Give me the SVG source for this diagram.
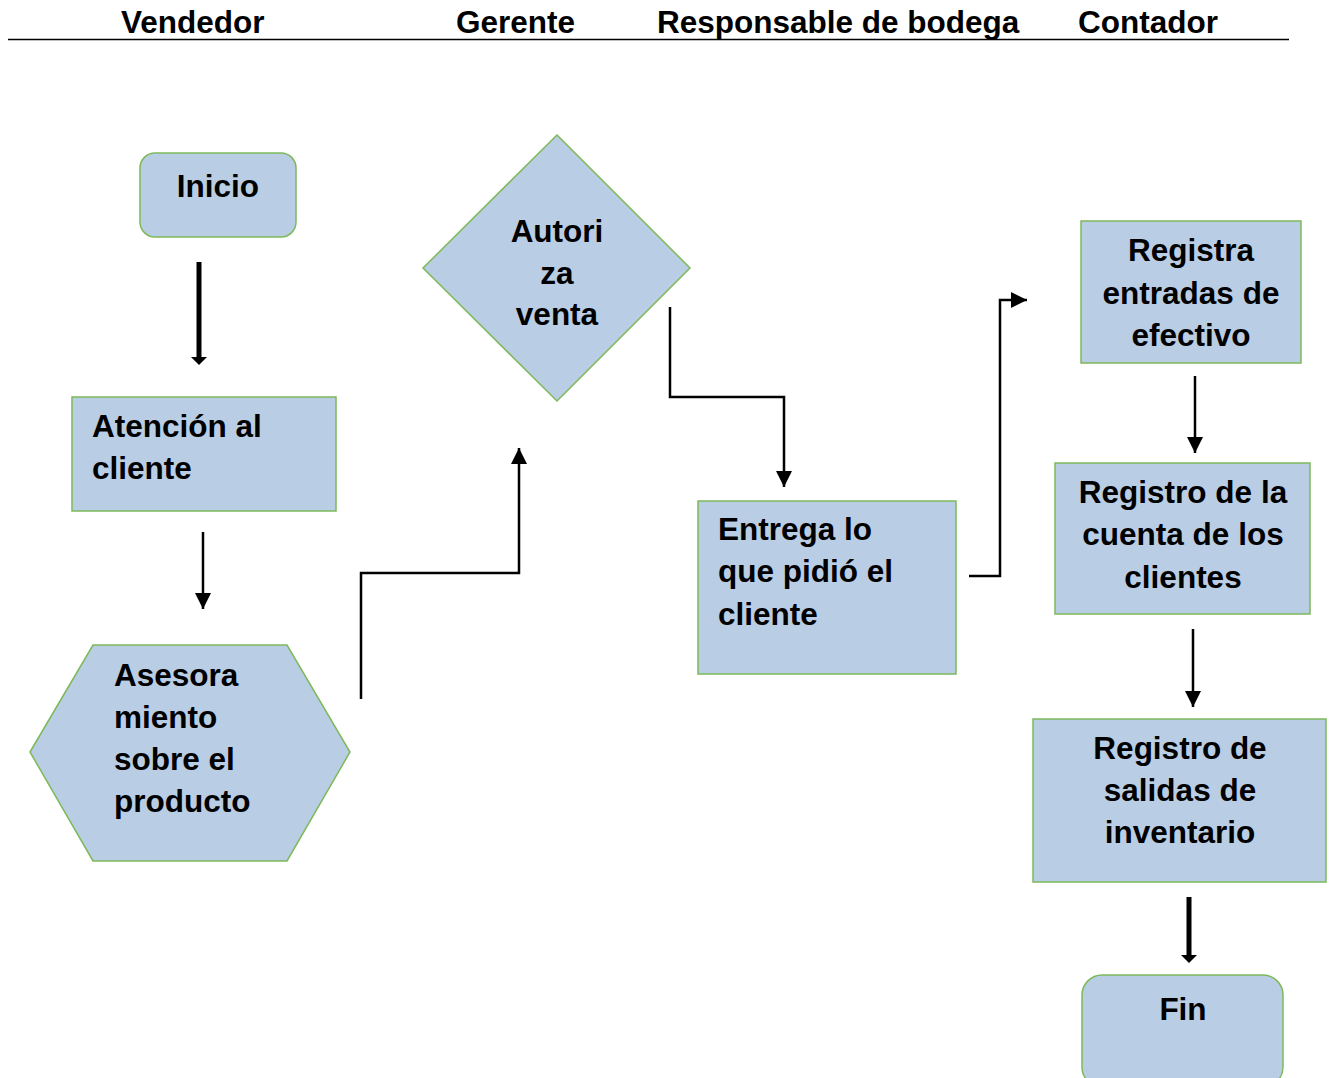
<svg xmlns="http://www.w3.org/2000/svg" width="1333" height="1078" viewBox="0 0 1333 1078">
  <style>
    .shape { fill: #B9CDE5; stroke: #7DB95A; stroke-width: 1.5; }
    .lbl { font-family: "Liberation Sans", Arial, sans-serif; font-weight: bold; font-size: 31.5px; fill: #000; }
    .mid { text-anchor: middle; }
    .wire { fill: none; stroke: #000; stroke-width: 2.5; }
    .thick { fill: none; stroke: #000; stroke-width: 5; }
  </style>
  <defs>
    <marker id="arrow" viewBox="0 0 16 16" refX="16" refY="8" markerUnits="userSpaceOnUse" markerWidth="16" markerHeight="16" orient="auto">
      <path d="M0,0 L16,8 L0,16 Z" fill="#000"/>
    </marker>
    <!-- short wide head placed beyond the end of a thick shaft -->
    <marker id="arrowSmall" viewBox="0 0 8 16" refX="0" refY="8" markerUnits="userSpaceOnUse" markerWidth="8" markerHeight="16" orient="auto">
      <path d="M0,0 L8,8 L0,16 Z" fill="#000"/>
    </marker>
  </defs>

  <!-- lane headings -->
  <g id="lanes">
    <text class="lbl" x="121" y="33">Vendedor</text>
    <text class="lbl" x="456" y="33">Gerente</text>
    <text class="lbl" x="657" y="33">Responsable de bodega</text>
    <text class="lbl" x="1078" y="33">Contador</text>
    <line x1="8" y1="39.5" x2="1289" y2="39.5" stroke="#000" stroke-width="1.5"/>
  </g>

  <g id="inicio">
    <rect class="shape" x="140" y="153" width="156" height="84" rx="15"/>
    <text class="lbl mid" x="218" y="197">Inicio</text>
  </g>

  <g id="atencion">
    <rect class="shape" x="72" y="397" width="264" height="114"/>
    <text class="lbl" x="92" y="437">Atención al</text>
    <text class="lbl" x="92" y="479">cliente</text>
  </g>

  <g id="asesoramiento">
    <polygon class="shape" points="30,752 93,645 287,645 350,752 287,861 93,861"/>
    <text class="lbl" x="114" y="686">Asesora</text>
    <text class="lbl" x="114" y="728">miento</text>
    <text class="lbl" x="114" y="770">sobre el</text>
    <text class="lbl" x="114" y="812">producto</text>
  </g>

  <g id="autoriza">
    <polygon class="shape" points="557,135 690,268 557,401 423,268"/>
    <text class="lbl mid" x="557" y="242">Autori</text>
    <text class="lbl mid" x="557" y="284">za</text>
    <text class="lbl mid" x="557" y="325">venta</text>
  </g>

  <g id="entrega">
    <rect class="shape" x="698" y="501" width="258" height="173"/>
    <text class="lbl" x="718" y="540">Entrega lo</text>
    <text class="lbl" x="718" y="582">que pidió el</text>
    <text class="lbl" x="718" y="625">cliente</text>
  </g>

  <g id="registra-entradas">
    <rect class="shape" x="1081" y="221" width="220" height="142"/>
    <text class="lbl mid" x="1191" y="261">Registra</text>
    <text class="lbl mid" x="1191" y="304">entradas de</text>
    <text class="lbl mid" x="1191" y="346">efectivo</text>
  </g>

  <g id="registro-cuenta">
    <rect class="shape" x="1055" y="463" width="255" height="151"/>
    <text class="lbl mid" x="1183" y="503">Registro de la</text>
    <text class="lbl mid" x="1183" y="545">cuenta de los</text>
    <text class="lbl mid" x="1183" y="588">clientes</text>
  </g>

  <g id="registro-salidas">
    <rect class="shape" x="1033" y="719" width="293" height="163"/>
    <text class="lbl mid" x="1180" y="759">Registro de</text>
    <text class="lbl mid" x="1180" y="801">salidas de</text>
    <text class="lbl mid" x="1180" y="843">inventario</text>
  </g>

  <g id="fin">
    <rect class="shape" x="1082" y="975" width="201" height="112" rx="20"/>
    <text class="lbl mid" x="1183" y="1020">Fin</text>
  </g>

  <!-- connectors -->
  <g id="connectors">
    <path class="thick" d="M199,262 V357" marker-end="url(#arrowSmall)"/>
    <path class="wire" d="M203,532 V609" marker-end="url(#arrow)"/>
    <path class="wire" d="M361,699 V573 H519 V448" marker-end="url(#arrow)"/>
    <path class="wire" d="M670,307 V397 H784 V487" marker-end="url(#arrow)"/>
    <path class="wire" d="M969,576 H1000 V300 H1027" marker-end="url(#arrow)"/>
    <path class="wire" d="M1195,376 V453" marker-end="url(#arrow)"/>
    <path class="wire" d="M1193,629 V707" marker-end="url(#arrow)"/>
    <path class="thick" d="M1189,897 V955" marker-end="url(#arrowSmall)"/>
  </g>
</svg>
